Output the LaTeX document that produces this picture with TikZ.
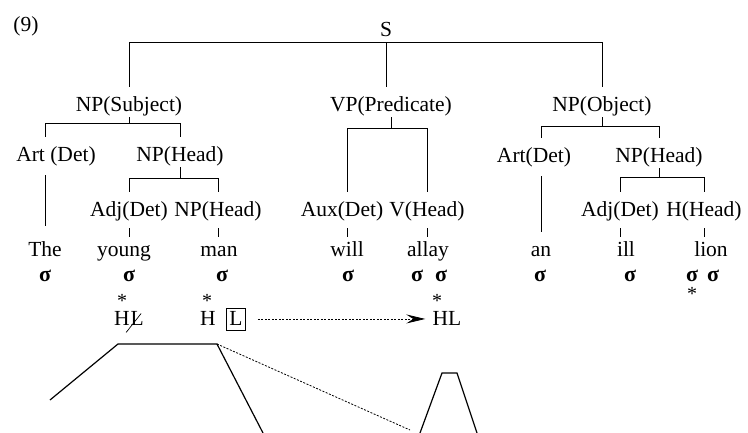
\documentclass[tikz,border=0pt]{standalone}
\usepackage{fontspec}
\setmainfont{LiberationSerif}[Extension=.ttf,UprightFont=*-Regular,BoldFont=*-Bold]
\usetikzlibrary{arrows.meta}

\begin{document}
\begin{tikzpicture}[x=1pt,y=-1pt,line width=0.8pt,
    every node/.style={font=\fontsize{21.5}{24}\selectfont,inner sep=0pt},
    cat/.style={anchor=base,text height=15pt,text depth=5pt},
    word/.style={anchor=base,text height=10pt,text depth=4pt},
    syl/.style={anchor=base,font=\fontsize{22}{24}\selectfont\bfseries},
    star/.style={anchor=base,font=\fontsize{20}{22}\selectfont},
    drop/.style={shorten >=10pt},
    tick/.style={shorten <=6pt,shorten >=10pt}]
    \useasboundingbox (0,0) rectangle (748,433);
    \node[anchor=base west] (num) at (13,32) {(9)};
    % tree
    \node[cat] (s) at (386,37) {S};
    \node[cat] (subj) at (129,112) {NP(Subject)};
    \node[cat] (pred) at (391,112) {VP(Predicate)};
    \node[cat] (obj) at (602,112) {NP(Object)};
    \node[cat] (art1) at (56,162) {Art (Det)};
    \node[cat] (head1) at (180,162) {NP(Head)};
    \node[cat] (art2) at (534,163) {Art(Det)};
    \node[cat] (head2) at (659,163) {NP(Head)};
    \node[cat] (adj1) at (129,217) {Adj(Det)};
    \node[cat] (head3) at (218,217) {NP(Head)};
    \node[cat] (aux) at (342,217) {Aux(Det)};
    \node[cat] (verb) at (427,217) {V(Head)};
    \node[cat] (adj2) at (620,217) {Adj(Det)};
    \node[cat] (head4) at (704,217) {H(Head)};
    % words
    \node[word] (the) at (45,257) {The};
    \node[word] (young) at (124,257) {young};
    \node[word] (man) at (219,257) {man};
    \node[word] (will) at (347,257) {will};
    \node[word] (allay) at (428,257) {allay};
    \node[word] (an) at (541,257) {an};
    \node[word] (ill) at (626,257) {ill};
    \node[word] (lion) at (711,257) {lion};
    % syllables
    \node[syl] (sy1) at (45,282) {σ};
    \node[syl] (sy2) at (129,282) {σ};
    \node[syl] (sy3) at (222,282) {σ};
    \node[syl] (sy4) at (348,282) {σ};
    \node[syl] (sy5) at (417,282) {σ};
    \node[syl] (sy6) at (441,282) {σ};
    \node[syl] (sy7) at (540,282) {σ};
    \node[syl] (sy8) at (630,282) {σ};
    \node[syl] (sy9) at (692,282) {σ};
    \node[syl] (sy10) at (713,282) {σ};
    % stress
    \node[star] (st1) at (122,307) {*};
    \node[star] (st2) at (207,307) {*};
    \node[star] (st3) at (437,307) {*};
    \node[star] (st4) at (692,301) {*};
    % tones
    \node[anchor=base] (h1) at (122,326) {H};
    \node[anchor=base west] (l1) at (h1.base east) {L};
    \node[anchor=base] (h2) at (208,326) {H};
    \node[draw,anchor=base,inner xsep=3pt,inner ysep=4pt,line width=0.6pt] (l2) at (236,326) {L};
    \node[anchor=base] (hl) at (447,326) {HL};
    \draw[line width=0.7pt] ([shift={(-4,6)}]l1.south west) -- ([shift={(-3,2)}]l1.north east);

    \draw[drop] (s.south) -| (subj.north);
    \draw[drop] (s.south) -- (s.south |- pred.north);
    \draw[drop] (s.south) -| (obj.north);

    \draw (subj.south) -- ++(0,6) coordinate (b1);
    \draw[drop] (b1) -| (art1.north -| the.north);
    \draw[drop] (b1) -| (head1.north);
    \draw (head1.south) -- ++(0,11) coordinate (b2);
    \draw[drop] (b2) -| (adj1.north);
    \draw[drop] (b2) -| (head3.north);

    \draw (pred.south) -- ++(0,11) coordinate (b3);
    \draw[drop] (b3) -| (aux.north -| will.north);
    \draw[drop] (b3) -| (verb.north);

    \draw (obj.south) -- ++(0,9) coordinate (b4);
    \draw[drop] (b4) -| (art2.north -| an.north);
    \draw[drop] (b4) -| (head2.north);
    \draw (head2.south) -- ++(0,9) coordinate (b5);
    \draw[drop] (b5) -| (adj2.north);
    \draw[drop] (b5) -| (head4.north);

    \draw[shorten <=8pt,shorten >=21pt] (art1.south -| the.north) -- (the.north);
    \draw[shorten <=8pt,shorten >=15pt] (art2.south -| an.north) -- (an.north);
    \draw[tick] (adj1.south) -- (adj1.south |- young.north);
    \draw[tick] (head3.south) -- (head3.south |- man.north);
    \draw[tick] (aux.south -| will.north) -- (will.north);
    \draw[tick] (verb.south) -- (verb.south |- allay.north);
    \draw[tick] (adj2.south) -- (adj2.south |- ill.north);
    \draw[tick] (head4.south) -- (head4.south |- lion.north);

    \draw[dash pattern=on 2pt off 1.5pt,shorten <=12pt,shorten >=7pt,
        -{Stealth[length=19pt,width=9pt,inset=7pt]}] (l2.east) -- (hl.west);

    % contour
    \draw[line width=1.2pt] (50,400) -- (118,344) -- (217,344) -- (263,433);
    \draw[dash pattern=on 2pt off 1.5pt] (217,344) -- (410,430);
    \draw[line width=1.2pt] (420,433) -- (442,373) -- (457,373) -- (477,433);
\end{tikzpicture}
\end{document}
